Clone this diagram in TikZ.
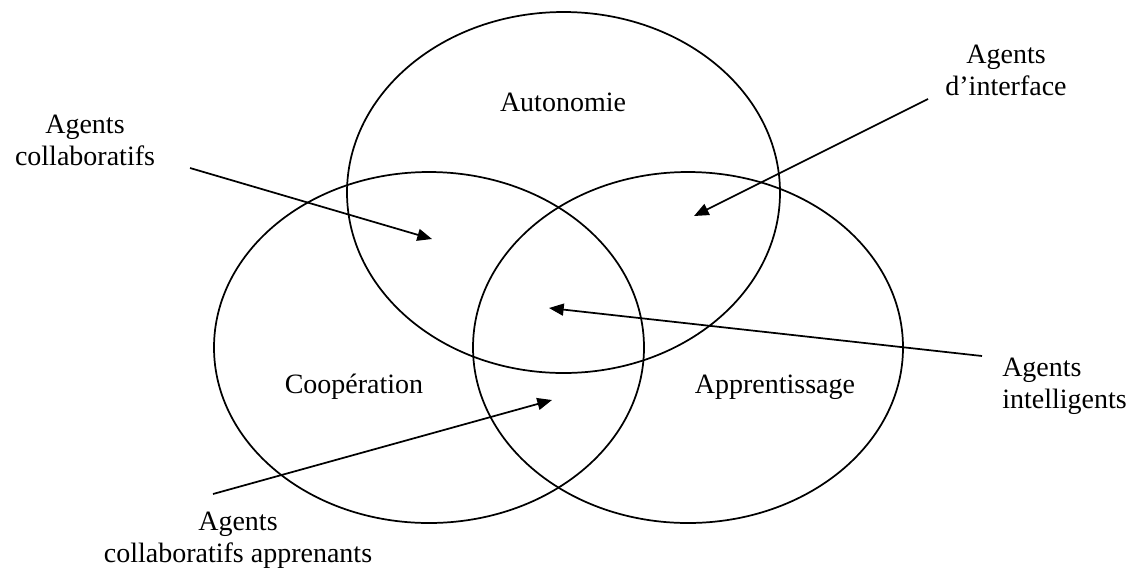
\documentclass[tikz,border=0pt]{standalone}
\usepackage{fontspec}
\setmainfont{Liberation Serif}
\usetikzlibrary{arrows.meta}
\begin{document}
\begin{tikzpicture}[x=0.75pt,y=-0.75pt,
  ring/.style={draw, line width=1.3pt},
  lbl/.style={font=\fontsize{21}{23.6}\selectfont, inner sep=0pt, anchor=base},
  pointer/.style={line width=1.3pt, -{Triangle[length=11pt,width=9pt]}}]
\useasboundingbox (0,0) rectangle (1130,569);

% the three overlapping sets
\draw[ring] (563.5,192.5) ellipse [x radius=216.5, y radius=180.5];
\draw[ring] (429,347.5) ellipse [x radius=215, y radius=175.5];
\draw[ring] (688,347.5) ellipse [x radius=215, y radius=175.5];

% set names
\node[lbl] (auto) at (563,111) {Autonomie};
\node[lbl] (coop) at (354,393) {Coopération};
\node[lbl] (appr) at (775,393) {Apprentissage};

% agent families (multi-line nodes sit on the baseline of their last line)
\node[lbl, align=center] (collab) at (85,165) {Agents\\collaboratifs};
\node[lbl, align=center] (interf) at (1006,95) {Agents\\d’interface};
\node[lbl, align=left, anchor=base west] (intel) at (1002,408) {Agents\\intelligents};
\node[lbl, align=center] (collabapp) at (238,562) {Agents\\collaboratifs apprenants};

% arrow ends
\coordinate (collabTail) at (190,168);
\coordinate (collabTip) at (432,239);
\coordinate (interfTail) at (928,99);
\coordinate (interfTip) at (694,216);
\coordinate (intelTail) at (982,356);
\coordinate (intelTip) at (549,308);
\coordinate (collabappTail) at (213,494);
\coordinate (collabappTip) at (552,400);

\draw[pointer] (collabTail) -- (collabTip);
\draw[pointer] (interfTail) -- (interfTip);
\draw[pointer] (intelTail) -- (intelTip);
\draw[pointer] (collabappTail) -- (collabappTip);
\end{tikzpicture}
\end{document}
